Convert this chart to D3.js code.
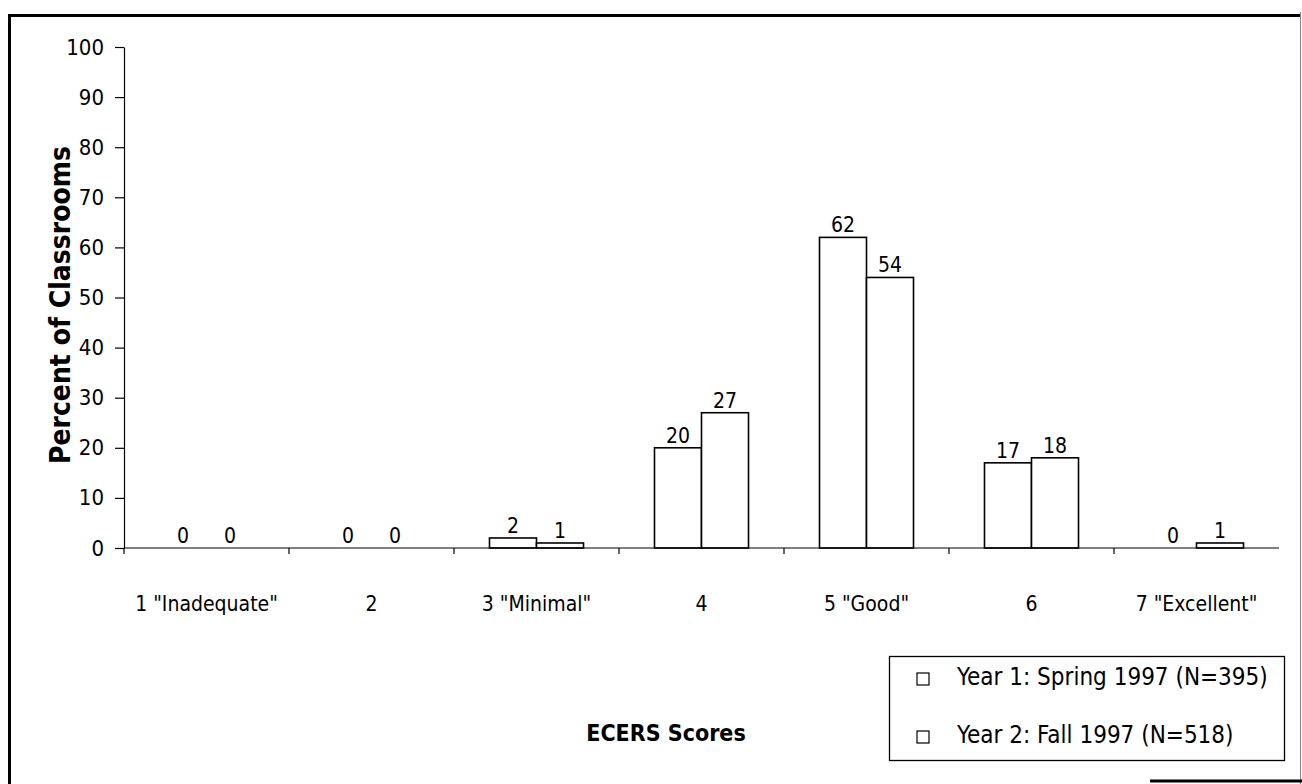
<!DOCTYPE html>
<html>
<head>
<meta charset="utf-8">
<script src="https://cdn.jsdelivr.net/npm/d3@7"></script>
<style>
  html, body { margin: 0; padding: 0; background: #fff; }
  svg { display: block; }
  text { font-family: "DejaVu Sans Condensed", "DejaVu Sans", sans-serif; fill: #000; }
</style>
</head>
<body>
<div id="chart"></div>
<script>
// data
const categories = ['1 "Inadequate"', '2', '3 "Minimal"', '4', '5 "Good"', '6', '7 "Excellent"'];
const seriesNames = ['Year 1: Spring 1997 (N=395)', 'Year 2: Fall 1997 (N=518)'];
const spring1997 = [0, 0, 2, 20, 62, 17, 0];
const fall1997 = [0, 0, 1, 27, 54, 18, 1];
const yTicks = [0, 10, 20, 30, 40, 50, 60, 70, 80, 90, 100];

function createBarChart(element) {
  const width = 1302;
  const height = 784;
  const d3Element = d3.select(element);
  d3Element.html(null);

  const svg = d3Element.append('svg')
    .attr('width', width)
    .attr('height', height);

  // page frame (scanned figure border)
  svg.append('path')
    .attr('d', 'M9.5,784 V15.5 H1300')
    .attr('fill', 'none')
    .attr('stroke', '#000')
    .attr('stroke-width', 3);
  svg.append('line')
    .attr('x1', 1300.5).attr('x2', 1300.5)
    .attr('y1', 12).attr('y2', 784)
    .attr('stroke', '#888').attr('stroke-width', 1);
  svg.append('line')
    .attr('x1', 1150).attr('x2', 1302)
    .attr('y1', 781).attr('y2', 781)
    .attr('stroke', '#000').attr('stroke-width', 3);

  const rows = categories.map((c, i) => ({ cat: c, values: [spring1997[i], fall1997[i]] }));

  const x0 = d3.scaleBand()
    .domain(categories)
    .range([124, 1279])
    .paddingInner(0)
    .paddingOuter(0);

  const x1 = d3.scaleBand()
    .domain([0, 1])
    .range([0, x0.bandwidth()])
    .paddingInner(0)
    .paddingOuter(0.755);

  const y = d3.scaleLinear()
    .domain([0, 100])
    .range([548, 47]);

  // y axis
  const yAxis = svg.append('g')
    .attr('transform', `translate(${x0.range()[0]},0)`)
    .call(d3.axisLeft(y).tickValues(yTicks).tickSize(9).tickPadding(11).tickSizeOuter(0));
  yAxis.select('.domain').attr('stroke', '#000').attr('stroke-width', 1.2);
  yAxis.selectAll('.tick line').attr('stroke', '#000').attr('stroke-width', 1.2);
  yAxis.selectAll('.tick text')
    .attr('font-size', 22)
    .attr('font-family', '"DejaVu Sans Condensed", "DejaVu Sans", sans-serif')
    .attr('fill', '#000');

  // bars
  const groups = svg.append('g')
    .selectAll('g')
    .data(rows)
    .enter()
    .append('g')
    .attr('transform', d => `translate(${x0(d.cat)},0)`);

  groups.selectAll('rect')
    .data(d => d.values.map((v, i) => ({ v, i })))
    .enter()
    .append('rect')
    .attr('x', d => x1(d.i))
    .attr('y', d => y(d.v))
    .attr('width', x1.bandwidth())
    .attr('height', d => y(0) - y(d.v))
    .attr('fill', '#fff')
    .attr('stroke', '#000')
    .attr('stroke-width', 1.6);

  groups.selectAll('text')
    .data(d => d.values.map((v, i) => ({ v, i })))
    .enter()
    .append('text')
    .attr('x', d => x1(d.i) + x1.bandwidth() / 2)
    .attr('y', d => y(d.v) - 5)
    .attr('text-anchor', 'middle')
    .attr('font-size', 21)
    .text(d => d.v);

  // x axis
  const xAxis = svg.append('g')
    .attr('transform', `translate(0,${y(0)})`);
  xAxis.append('line')
    .attr('x1', x0.range()[0]).attr('x2', x0.range()[1])
    .attr('stroke', '#000').attr('stroke-width', 1.2);
  xAxis.selectAll('.cat-tick')
    .data(categories)
    .enter()
    .append('line')
    .attr('class', 'cat-tick')
    .attr('x1', d => x0(d)).attr('x2', d => x0(d))
    .attr('y1', 0).attr('y2', 6)
    .attr('stroke', '#000').attr('stroke-width', 1.2);
  xAxis.selectAll('.cat-label')
    .data(categories)
    .enter()
    .append('text')
    .attr('class', 'cat-label')
    .attr('x', d => x0(d) + x0.bandwidth() / 2)
    .attr('y', 63)
    .attr('text-anchor', 'middle')
    .attr('font-size', 21)
    .text(d => d);

  // axis titles
  svg.append('text')
    .attr('transform', 'translate(70,305) rotate(-90)')
    .attr('text-anchor', 'middle')
    .attr('font-size', 28)
    .attr('font-weight', 'bold')
    .text('Percent of Classrooms');

  svg.append('text')
    .attr('x', 666)
    .attr('y', 741)
    .attr('text-anchor', 'middle')
    .attr('font-size', 23)
    .attr('font-weight', 'bold')
    .text('ECERS Scores');

  // legend
  const legend = svg.append('g');
  legend.append('rect')
    .attr('x', 889.5).attr('y', 656.5)
    .attr('width', 395).attr('height', 104)
    .attr('fill', '#fff')
    .attr('stroke', '#000')
    .attr('stroke-width', 1.3);

  const item = legend.selectAll('.item')
    .data(seriesNames)
    .enter()
    .append('g')
    .attr('class', 'item')
    .attr('transform', (d, i) => `translate(0,${685 + i * 58})`);
  item.append('rect')
    .attr('x', 917).attr('y', -12)
    .attr('width', 12).attr('height', 12)
    .attr('fill', '#fff')
    .attr('stroke', '#000')
    .attr('stroke-width', 1.2);
  item.append('text')
    .attr('x', 957)
    .attr('y', 0)
    .attr('font-size', 24)
    .text(d => d);
}

createBarChart(document.getElementById('chart'));
</script>
</body>
</html>
